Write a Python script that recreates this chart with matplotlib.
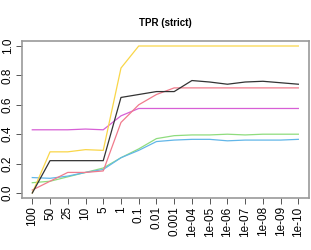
import matplotlib
matplotlib.use('agg')
from matplotlib import pyplot

cutoffs = ['100', '50', '25', '10', '5', '1', '0.1', '0.01', '0.001', '1e-04',
           '1e-05', '1e-06', '1e-07', '1e-08', '1e-09', '1e-10']

yellow = [0.0, 0.28, 0.28, 0.295, 0.29, 0.85, 1.0, 1.0, 1.0, 1.0, 1.0, 1.0, 1.0, 1.0, 1.0, 1.0]
black = [0.0, 0.22, 0.22, 0.22, 0.22, 0.65, 0.67, 0.69, 0.69, 0.765, 0.755, 0.74, 0.755, 0.76, 0.75, 0.74]
pink = [0.02, 0.08, 0.14, 0.14, 0.15, 0.48, 0.60, 0.67, 0.715, 0.715, 0.715, 0.715, 0.715, 0.715, 0.715, 0.715]
magenta = [0.43, 0.43, 0.43, 0.435, 0.43, 0.525, 0.575, 0.575, 0.575, 0.575, 0.575, 0.575, 0.575, 0.575, 0.575, 0.575]
green = [0.07, 0.08, 0.11, 0.14, 0.17, 0.24, 0.30, 0.37, 0.39, 0.395, 0.395, 0.40, 0.395, 0.40, 0.40, 0.40]
blue = [0.105, 0.10, 0.115, 0.14, 0.16, 0.24, 0.29, 0.35, 0.36, 0.365, 0.365, 0.355, 0.36, 0.36, 0.36, 0.365]

series = [
    (green, '#8fdc7e'),
    (blue, '#62b6e8'),
    (magenta, '#d75fd6'),
    (pink, '#f07b8c'),
    (yellow, '#f9d649'),
    (black, '#333333'),
]

pyplot.rcParams['font.family'] = 'Liberation Sans'
fig = pyplot.figure(figsize=(3.11, 2.5), dpi=100)
ax = fig.add_axes([22 / 311, 1 - 198 / 250, 287 / 311, 157 / 250])

x = list(range(len(cutoffs)))
for values, color in series:
    ax.plot(x, values, color=color, linewidth=0.9)

ax.set_xlim(-0.58, 15.6)
ax.set_ylim(-0.034, 1.034)
ax.set_xticks(x)
ax.set_xticklabels(cutoffs, rotation=90, fontsize=8.5)
ax.set_yticks([0.0, 0.2, 0.4, 0.6, 0.8, 1.0])
ax.set_yticklabels(['0.0', '0.2', '0.4', '0.6', '0.8', '1.0'], rotation=90, va='center', fontsize=8.5)
ax.tick_params(axis='both', direction='out', length=4, width=0.7, color='#555555', pad=2)
for spine in ax.spines.values():
    spine.set_color('#999999')
    spine.set_linewidth(1.2)
ax.set_title('TPR (strict)', fontsize=7, fontweight='bold', pad=11)

pyplot.savefig('out.png', dpi=100)
